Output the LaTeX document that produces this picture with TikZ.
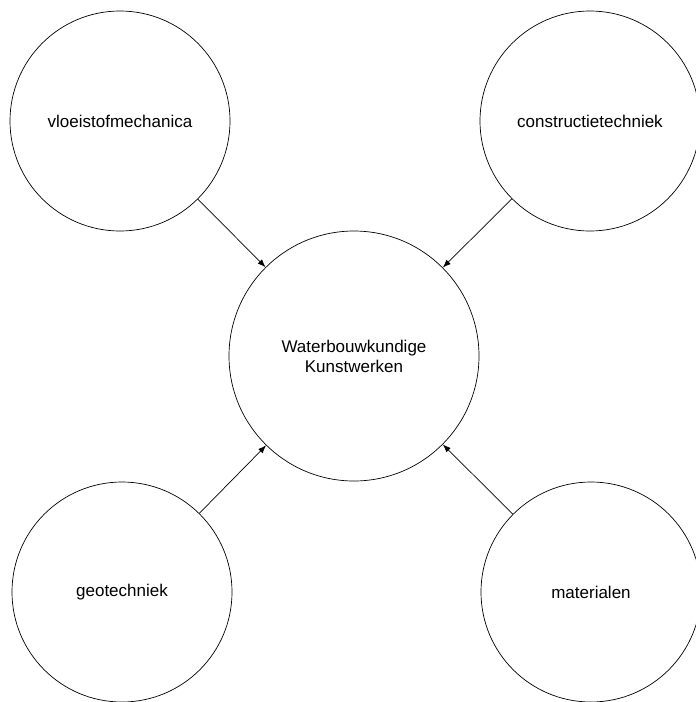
\documentclass[tikz,border=0pt]{standalone}
\usepackage{fontspec}
\setmainfont{Liberation Sans}
\usetikzlibrary{arrows.meta}
\begin{document}
\begin{tikzpicture}[x=1pt,y=1pt,
  topic/.style={circle,draw,line width=0.7pt,inner sep=0pt,font=\fontsize{17}{20}\selectfont,align=center},
  link/.style={line width=0.7pt,-{Latex[length=8pt,width=6pt]}}]
\useasboundingbox (0,0) rectangle (696,-702);
\node[topic,minimum size=220pt] (vm) at (120,-121) {vloeistofmechanica};
\node[topic,minimum size=220pt] (ct) at (590,-121) {constructietechniek};
\node[topic,minimum size=220pt] (gt) at (122,-592) {geotechniek};
\node[topic,minimum size=220pt] (ma) at (591,-592) {materialen};
\node[topic,minimum size=250pt] (wk) at (354,-356) {Waterbouwkundige\\Kunstwerken};
\draw[link] (vm) -- (wk);
\draw[link] (ct) -- (wk);
\draw[link] (gt) -- (wk);
\draw[link] (ma) -- (wk);
\end{tikzpicture}
\end{document}
